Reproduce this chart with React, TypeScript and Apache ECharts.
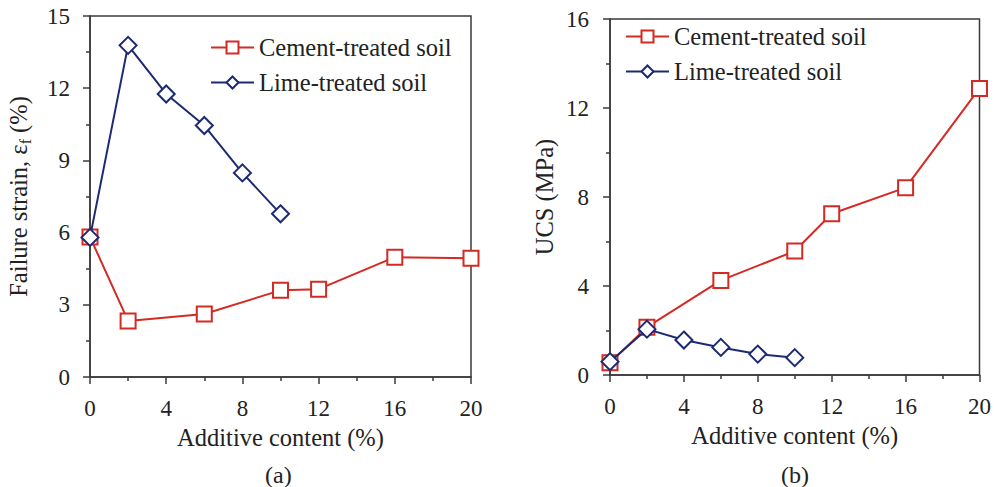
import React, { useEffect, useRef } from "react";
import * as echarts from "echarts";

// Additive content (%) for each treatment
const cementContent = [0, 2, 6, 10, 12, 16, 20];
const limeContent = [0, 2, 4, 6, 8, 10];

// (a) failure strain (%)
const cementStrain = [5.82, 2.33, 2.62, 3.6, 3.65, 4.98, 4.93];
const limeStrain = [5.8, 13.78, 11.76, 10.45, 8.48, 6.78];

// (b) unconfined compressive strength (MPa)
const cementUCS = [0.55, 2.15, 4.25, 5.57, 7.25, 8.42, 12.88];
const limeUCS = [0.6, 2.06, 1.57, 1.24, 0.94, 0.78];

const seriesNames = ["Cement-treated soil", "Lime-treated soil"];
const panelLabels = ["(a)", "(b)"];

const RED = "#d42a24";
const BLUE = "#1b2a72";
const AXIS = "#3a3a3a";
const TEXT = "#222222";
const FONT = "'Liberation Serif', 'Times New Roman', serif";

const pairs = (xs: number[], ys: number[]) => xs.map((x, i) => [x, ys[i]]);

function xAxis(gridIndex: number) {
  return {
    type: "value",
    gridIndex,
    min: 0,
    max: 20,
    interval: 4,
    name: "Additive content (%)",
    nameLocation: "middle",
    nameGap: 47,
    nameTextStyle: { fontFamily: FONT, fontSize: 24.5, color: TEXT },
    axisLine: { show: true, lineStyle: { color: AXIS, width: 1.5 } },
    axisTick: { show: true, inside: false, length: 7, lineStyle: { color: AXIS, width: 1.5 } },
    minorTick: { show: true, splitNumber: 2, length: 4, lineStyle: { color: AXIS, width: 1.5 } },
    axisLabel: { fontFamily: FONT, fontSize: 23, color: TEXT, margin: 20 },
    splitLine: { show: false },
  };
}

function yAxis(gridIndex: number, max: number, interval: number, name: string, nameGap: number, margin: number) {
  return {
    type: "value",
    gridIndex,
    min: 0,
    max,
    interval,
    name,
    nameLocation: "middle",
    nameGap,
    nameRotate: 90,
    nameTextStyle: {
      fontFamily: FONT,
      fontSize: 24.5,
      color: TEXT,
      rich: {
        sub: { fontFamily: FONT, fontSize: 16, color: TEXT, padding: [13, 0, 0, 0] },
      },
    },
    axisLine: { show: true, lineStyle: { color: AXIS, width: 1.5 } },
    axisTick: { show: true, inside: false, length: 7, lineStyle: { color: AXIS, width: 1.5 } },
    minorTick: { show: true, splitNumber: 2, length: 4, lineStyle: { color: AXIS, width: 1.5 } },
    axisLabel: { fontFamily: FONT, fontSize: 23, color: TEXT, margin },
    splitLine: { show: false },
  };
}

function cementSeries(xAxisIndex: number, data: number[][]) {
  return {
    name: seriesNames[0],
    type: "line",
    xAxisIndex,
    yAxisIndex: xAxisIndex,
    data,
    symbol: "rect",
    symbolSize: 15,
    lineStyle: { color: RED, width: 2 },
    itemStyle: { color: "#ffffff", borderColor: RED, borderWidth: 2 },
    z: 2,
  };
}

function limeSeries(xAxisIndex: number, data: number[][]) {
  return {
    name: seriesNames[1],
    type: "line",
    xAxisIndex,
    yAxisIndex: xAxisIndex,
    data,
    symbol: "diamond",
    symbolSize: 17,
    lineStyle: { color: BLUE, width: 2 },
    itemStyle: { color: "#ffffff", borderColor: BLUE, borderWidth: 2 },
    z: 3,
  };
}

function legend(left: number, top: number) {
  return {
    show: true,
    left,
    top,
    padding: 0,
    orient: "vertical",
    itemWidth: 43,
    itemHeight: 15,
    itemGap: 10,
    data: seriesNames,
    textStyle: { fontFamily: FONT, fontSize: 24.5, color: TEXT },
    selectedMode: false,
  };
}

export default function App() {
  const ref = useRef<HTMLDivElement>(null);

  useEffect(() => {
    if (!ref.current) return;
    const chart = echarts.init(ref.current, undefined, { renderer: "svg" });
    chart.setOption({
      animation: false,
      backgroundColor: "#ffffff",
      grid: [
        { left: 90, top: 16, width: 381, height: 361, show: true, borderColor: AXIS, borderWidth: 1.5, backgroundColor: "transparent" },
        { left: 610, top: 19, width: 371, height: 356, show: true, borderColor: AXIS, borderWidth: 1.5, backgroundColor: "transparent" },
      ],
      xAxis: [xAxis(0), xAxis(1)],
      yAxis: [
        yAxis(0, 15, 3, "Failure strain, ε{sub|f} (%)", 57, 20),
        yAxis(1, 16, 4, "UCS (MPa)", 53, 21),
      ],
      legend: [legend(210, 35), legend(625, 24)],
      series: [
        cementSeries(0, pairs(cementContent, cementStrain)),
        limeSeries(0, pairs(limeContent, limeStrain)),
        cementSeries(1, pairs(cementContent, cementUCS)),
        limeSeries(1, pairs(limeContent, limeUCS)),
      ],
      graphic: [
        {
          type: "text",
          left: 265,
          top: 463,
          style: { text: panelLabels[0], font: `24px ${FONT}`, fill: TEXT },
        },
        {
          type: "text",
          left: 781,
          top: 463,
          style: { text: panelLabels[1], font: `24px ${FONT}`, fill: TEXT },
        },
      ],
    });
    return () => chart.dispose();
  }, []);

  return <div ref={ref} style={{ width: 994, height: 487, position: "absolute", left: 0, top: 0 }} />;
}
